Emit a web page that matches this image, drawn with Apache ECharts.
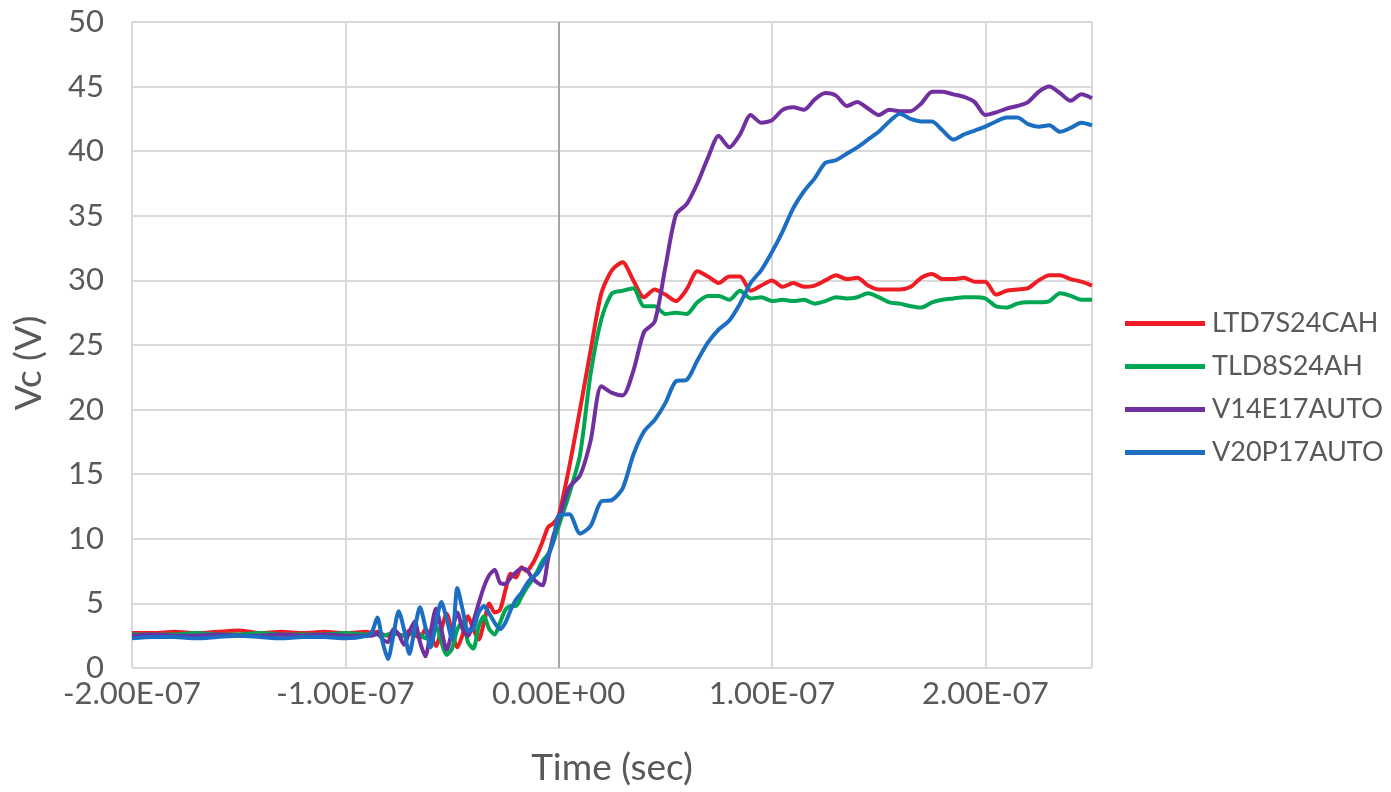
<!DOCTYPE html>
<html>
<head>
<meta charset="utf-8">
<script src="https://cdn.jsdelivr.net/npm/echarts@6/dist/echarts.min.js"></script>
<style>
  html, body { margin: 0; padding: 0; background: #ffffff; }
  #chart { width: 1391px; height: 792px; }
</style>
</head>
<body>
<div id="chart"></div>
<script>
// Sample times in nanoseconds
const timeNs = [
  -200, -190, -180, -170, -160, -150, -140, -130, -120, -110, -100, -90,
  -87.5, -85, -82.5, -80, -77.5, -75, -72.5, -70, -67.5, -65, -62.5, -60,
  -57.5, -55, -52.5, -50, -47.5, -45, -42.5, -40, -37.5, -35, -32.5, -30,
  -27.5, -25, -22.5, -20, -17.5, -15, -12.5, -10, -7.5, -5, -2.5, 0,
  5, 10, 15, 20, 25, 30, 35, 40, 45, 50,
  55, 60, 65, 70, 75, 80, 85, 90, 95, 100,
  105, 110, 115, 120, 125, 130, 135, 140, 145, 150,
  155, 160, 165, 170, 175, 180, 185, 190, 195, 200,
  205, 210, 215, 220, 225, 230, 235, 240, 245, 250
];

const seriesNames = ['LTD7S24CAH', 'TLD8S24AH', 'V14E17AUTO', 'V20P17AUTO'];

// Collector voltage (V) for each device
const vcLTD7S24CAH = [
  2.7, 2.7, 2.8, 2.7, 2.8, 2.9, 2.7, 2.8, 2.7, 2.8, 2.7, 2.8,
  2.7, 2.8, 2.6, 2.5, 2.8, 2.6, 2.5, 2.9, 2.6, 2.3, 3.0, 2.5,
  1.7, 3.0, 4.2, 2.8, 1.6, 2.6, 4.0, 3.0, 2.2, 3.5, 5.0, 4.3,
  4.5, 6.0, 7.3, 7.0, 7.8, 7.5, 8.0, 8.8, 9.8, 10.9, 11.2, 11.8,
  15.6, 20.0, 24.6, 29.0, 30.8, 31.4, 30.0, 28.7, 29.3, 28.9,
  28.4, 29.3, 30.7, 30.3, 29.8, 30.3, 30.3, 29.2, 29.6, 30.0,
  29.5, 29.8, 29.5, 29.6, 30.0, 30.4, 30.1, 30.2, 29.6, 29.3,
  29.3, 29.3, 29.5, 30.2, 30.5, 30.1, 30.1, 30.2, 29.9, 29.9,
  28.9, 29.2, 29.3, 29.4, 30.0, 30.4, 30.4, 30.1, 29.9, 29.6
];

const vcTLD8S24AH = [
  2.6, 2.6, 2.6, 2.7, 2.6, 2.6, 2.7, 2.6, 2.6, 2.6, 2.7, 2.6,
  2.6, 2.6, 2.5, 2.6, 2.7, 2.6, 2.5, 2.6, 2.7, 2.6, 2.3, 2.8,
  3.2, 2.0, 1.0, 1.5, 3.0, 3.6, 2.0, 1.5, 3.2, 4.0, 3.0, 2.6,
  3.5, 4.5, 4.8, 4.8, 5.5, 6.2, 6.8, 7.5, 8.3, 8.8, 9.8, 11.0,
  13.5, 16.5, 22.8, 27.0, 29.0, 29.2, 29.4, 28.0, 28.0, 27.4,
  27.5, 27.4, 28.3, 28.8, 28.8, 28.5, 29.2, 28.6, 28.7, 28.4,
  28.5, 28.4, 28.5, 28.2, 28.4, 28.7, 28.6, 28.7, 29.0, 28.7,
  28.3, 28.2, 28.0, 27.9, 28.3, 28.5, 28.6, 28.7, 28.7, 28.6,
  28.0, 27.9, 28.2, 28.3, 28.3, 28.4, 29.0, 28.8, 28.5, 28.5
];

const vcV14E17AUTO = [
  2.5, 2.6, 2.5, 2.5, 2.6, 2.5, 2.5, 2.6, 2.5, 2.6, 2.5, 2.5,
  2.5, 2.7, 2.2, 2.0, 3.0, 2.6, 1.8, 2.8, 3.6, 2.0, 0.9, 2.8,
  4.6, 3.0, 1.4, 2.8, 4.3, 3.0, 2.5, 3.6, 5.0, 6.3, 7.2, 7.6,
  6.6, 6.5, 7.0, 7.4, 7.7, 7.6, 7.0, 6.6, 6.4, 8.4, 10.2, 11.5,
  14.0, 14.9, 17.6, 21.8, 21.3, 21.1, 23.0, 26.0, 26.8, 31.0,
  35.1, 35.9, 37.5, 39.5, 41.2, 40.3, 41.3, 42.8, 42.2, 42.4,
  43.2, 43.4, 43.2, 44.0, 44.5, 44.3, 43.5, 43.8, 43.3, 42.8,
  43.2, 43.1, 43.1, 43.7, 44.6, 44.6, 44.4, 44.2, 43.8, 42.8,
  43.0, 43.3, 43.5, 43.8, 44.6, 45.0, 44.5, 43.9, 44.4, 44.1
];

const vcV20P17AUTO = [
  2.3, 2.4, 2.4, 2.3, 2.4, 2.5, 2.4, 2.3, 2.4, 2.4, 2.3, 2.5,
  2.8, 3.9, 2.0, 0.7, 2.5, 4.4, 3.0, 1.1, 3.0, 4.7, 3.2, 1.6,
  3.5, 5.1, 3.8, 2.2, 6.2, 4.5, 2.9, 3.0, 4.3, 4.8, 4.2, 3.5,
  3.0, 3.5, 4.5, 5.3, 5.8, 6.5, 7.0, 7.3, 8.0, 8.7, 9.8, 11.8,
  11.9, 10.4, 11.0, 12.9, 13.0, 13.9, 16.5, 18.3, 19.2, 20.5,
  22.2, 22.3, 23.8, 25.2, 26.2, 26.9, 28.2, 29.8, 30.8, 32.2,
  33.8, 35.6, 36.9, 37.9, 39.1, 39.3, 39.8, 40.3, 40.9, 41.5,
  42.3, 42.9, 42.5, 42.3, 42.3, 41.6, 40.9, 41.3, 41.6, 41.9,
  42.3, 42.6, 42.6, 42.1, 41.9, 42.0, 41.5, 41.8, 42.2, 42.0
];

const seriesValues = [vcLTD7S24CAH, vcTLD8S24AH, vcV14E17AUTO, vcV20P17AUTO];
const seriesColors = ['#EE1D23', '#00A651', '#7030A0', '#1B6EC2'];

const FONT = 'Lato, "Open Sans", sans-serif';
const TEXT_COLOR = '#595959';

// Excel-style scientific label, e.g. -2.00E-07
function sciLabel(ns) {
  const v = Math.abs(ns) < 1e-6 ? 0 : ns * 1e-9;
  const s = v.toExponential(2);
  const parts = s.split('e');
  const sign = parts[1][0] === '-' ? '-' : '+';
  let exp = parts[1].replace(/^[+-]/, '');
  if (exp.length < 2) exp = '0' + exp;
  return parts[0] + 'E' + sign + exp;
}

const chart = echarts.init(document.getElementById('chart'), null, { renderer: 'canvas' });

const option = {
  animation: false,
  backgroundColor: '#ffffff',
  grid: { left: 132, right: 299, top: 22, bottom: 124, containLabel: false },
  legend: {
    orient: 'vertical',
    left: 1120,
    top: 305,
    itemWidth: 80,
    itemHeight: 5,
    itemGap: 16,
    icon: 'rect',
    textStyle: { fontFamily: FONT, fontSize: 27, color: TEXT_COLOR, padding: [0, 0, 0, 2] },
    data: seriesNames.map((n, i) => ({ name: n, itemStyle: { color: seriesColors[i] } }))
  },
  xAxis: {
    type: 'value',
    min: -200,
    max: 250,
    interval: 100,
    name: 'Time (sec)',
    nameLocation: 'middle',
    nameGap: 82,
    nameTextStyle: { fontFamily: FONT, fontSize: 37, color: TEXT_COLOR },
    axisLine: { show: false },
    axisTick: { show: false },
    axisLabel: {
      fontFamily: FONT, fontSize: 31, color: TEXT_COLOR, margin: 10,
      formatter: sciLabel
    },
    splitLine: {
      show: true,
      lineStyle: { color: ['#D9D9D9', '#D9D9D9', '#A6A6A6', '#D9D9D9', '#D9D9D9'], width: 2 }
    }
  },
  yAxis: {
    type: 'value',
    min: 0,
    max: 50,
    interval: 5,
    name: 'Vc (V)',
    nameLocation: 'middle',
    nameGap: 84,
    nameTextStyle: { fontFamily: FONT, fontSize: 37, color: TEXT_COLOR, padding: [0, 36, 0, 0] },
    axisLine: { show: false },
    axisTick: { show: false },
    axisLabel: { fontFamily: FONT, fontSize: 31, color: TEXT_COLOR, margin: 28 },
    splitLine: { show: true, lineStyle: { color: '#D9D9D9', width: 2 } }
  },
  series: seriesNames.map((name, i) => ({
    name: name,
    type: 'line',
    showSymbol: false,
    symbol: 'none',
    smooth: 0.25,
    lineStyle: { color: seriesColors[i], width: 4 },
    itemStyle: { color: seriesColors[i] },
    data: timeNs.map((t, k) => [t, seriesValues[i][k]])
  }))
};

chart.setOption(option);
</script>
</body>
</html>
